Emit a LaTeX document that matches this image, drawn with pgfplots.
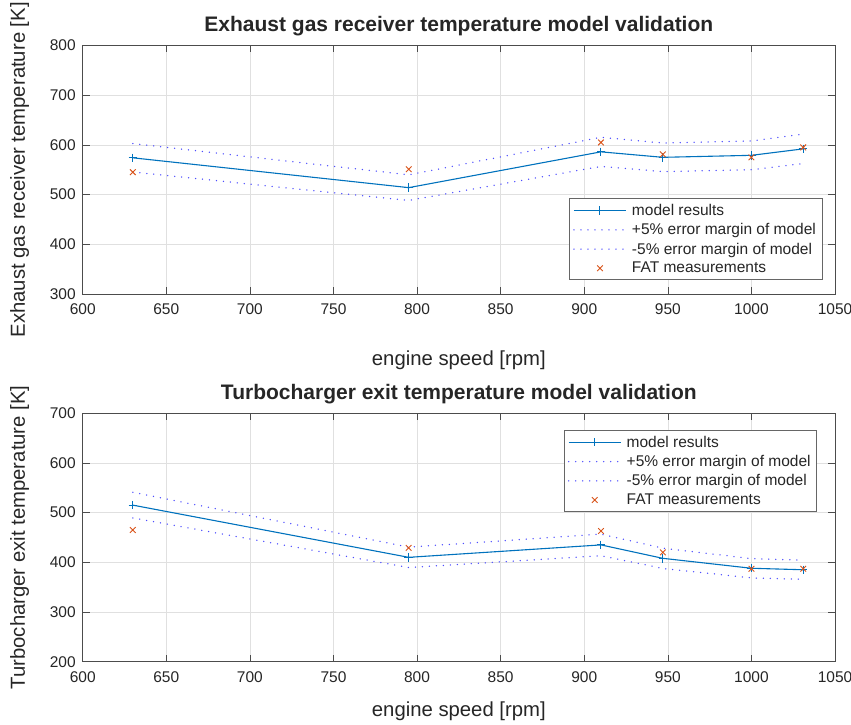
\documentclass[border=0pt]{standalone}
\usepackage{fontspec}
\setmainfont{Liberation Sans}
\usepackage{pgfplots}
\pgfplotsset{compat=1.18}
\definecolor{mblue}{rgb}{0,0.447,0.741}
\definecolor{morange}{rgb}{0.85,0.325,0.098}
\definecolor{dotblue}{rgb}{0.3,0.3,1}
\pgfplotsset{
 modelleg/.style={legend image code/.code={\path[draw=none,fill=none] (0pt,0pt) -- (56pt,0pt);\draw[mark repeat=2,mark phase=2,##1] plot coordinates {(0pt,0pt) (26pt,0pt) (52pt,0pt)};}},
 dotleg/.style={legend image code/.code={\path[draw=none,fill=none] (0pt,0pt) -- (56pt,0pt);\draw[##1] (0pt,0pt) -- (52pt,0pt);}},
 markleg/.style={legend image code/.code={\path[draw=none,fill=none] (0pt,0pt) -- (56pt,0pt);\draw[##1] plot coordinates {(26pt,0pt)};}},
 myaxis/.style={
  scale only axis, width=752.3pt, height=248.5pt,
  xmin=600, xmax=1050, xtick={600,650,...,1050},
  grid=major, major grid style={draw=black!12, line width=0.5pt},
  axis line style={draw=black!70, line width=0.6pt},
  tick style={draw=black!70, line width=0.6pt},
  major tick length=7pt,
  tick align=inside,
  ticklabel style={font=\fontsize{15.5}{18}\selectfont, text=black!85},
  xticklabel style={yshift=-6pt},
  yticklabel style={xshift=-3.5pt},
  /pgf/number format/assume math mode=true,
  /pgf/number format/set thousands separator={},
  label style={font=\fontsize{20.3}{24}\selectfont, text=black!85},
  title style={font=\bfseries\fontsize{21}{25}\selectfont, text=black!85},
  xlabel={engine speed [rpm]},
  ylabel style={at={(axis description cs:-0.0837,0.5)}, anchor=center},
  legend cell align=left,
  legend style={font=\fontsize{15.5}{18.5}\selectfont, draw=black!60, line width=0.6pt, inner xsep=4pt, inner ysep=3.5pt, row sep=2.6pt, text=black!85},
 },
 modelstyle/.style={mblue, line width=1.1pt, mark=+, mark size=4.2pt, mark options={line width=1pt}, modelleg},
 dotstyle/.style={dotblue, line width=1.5pt, line cap=round, dash pattern=on 0pt off 7pt, dotleg},
 fatstyle/.style={only marks, morange, mark=x, mark size=4pt, line width=0.9pt, markleg},
}
\begin{document}
\begin{tikzpicture}
\path[use as bounding box] (0,0) rectangle (851pt,725pt);
\begin{axis}[myaxis, at={(82.7pt,431pt)}, anchor=south west,
  ymin=300, ymax=800, ytick={300,400,...,800},
  title={Exhaust gas receiver temperature model validation},
  ylabel={Exhaust gas receiver temperature [K]},
  xlabel style={at={(axis description cs:0.5,0)}, anchor=center, yshift=-66pt},
  legend style={at={(axis description cs:0.983,0.056)}, anchor=south east}]
\addplot[modelstyle] coordinates {(630,574) (795,514) (910,586) (947,575) (1000,579) (1031,592)};
\addlegendentry{model results}
\addplot[dotstyle] coordinates {(630,602.7) (795,539.7) (910,615.3) (947,603.75) (1000,607.95) (1031,621.6)};
\addlegendentry{+5\% error margin of model}
\addplot[dotstyle] coordinates {(630,545.3) (795,488.3) (910,556.7) (947,546.25) (1000,550.05) (1031,562.4)};
\addlegendentry{-5\% error margin of model}
\addplot[fatstyle] coordinates {(630,545) (795,551) (910,605) (947,581) (1000,575) (1031,595)};
\addlegendentry{FAT measurements}
\end{axis}
\begin{axis}[myaxis, at={(82.7pt,63.3pt)}, anchor=south west,
  ymin=200, ymax=700, ytick={200,300,...,700},
  title={Turbocharger exit temperature model validation},
  ylabel={Turbocharger exit temperature [K]},
  xlabel style={at={(axis description cs:0.5,0)}, anchor=center, yshift=-50pt},
  legend style={at={(axis description cs:0.976,0.932)}, anchor=north east}]
\addplot[modelstyle] coordinates {(630,515) (795,410) (910,435) (947,408) (1000,388) (1031,385)};
\addlegendentry{model results}
\addplot[dotstyle] coordinates {(630,540.75) (795,430.5) (910,456.75) (947,428.4) (1000,407.4) (1031,404.25)};
\addlegendentry{+5\% error margin of model}
\addplot[dotstyle] coordinates {(630,489.25) (795,389.5) (910,413.25) (947,387.6) (1000,368.6) (1031,365.75)};
\addlegendentry{-5\% error margin of model}
\addplot[fatstyle] coordinates {(630,465) (795,429) (910,463) (947,420) (1000,387) (1031,387)};
\addlegendentry{FAT measurements}
\end{axis}
\end{tikzpicture}
\end{document}
